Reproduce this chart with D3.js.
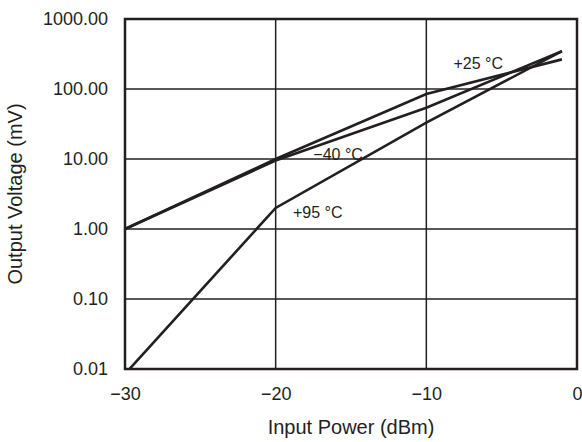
<!DOCTYPE html>
<html>
<head>
<meta charset="utf-8">
<script src="https://cdn.jsdelivr.net/npm/d3@7"></script>
<style>
	body { margin: 0; background: #fff; }
	text { font-family: "Liberation Sans", Arial, sans-serif; fill: #231f20; }
</style>
</head>
<body>
<svg id="chart"></svg>
<script>
// input power (dBm) where the curves are read
var powerDbm = [-30, -20, -10, -1];
// output voltage (mV) for each temperature
var voltM40 = [1.0, 10, 85, 265];
var voltP25 = [1.0, 9.5, 54, 347];
var voltP95 = [0.0085, 2.0, 33, 347];
var seriesNames = ["\u221240 \u00b0C", "+25 \u00b0C", "+95 \u00b0C"];
// where each curve label sits: [dBm, mV]
var labelAt = [[-17.5, 9.7], [-8.2, 193], [-18.85, 1.43]];
var xTicks = [-30, -20, -10, 0];
var yTicks = [0.01, 0.1, 1, 10, 100, 1000];

var w = 582,
	h = 442;
var plotL = 125, plotR = 577, plotT = 19, plotB = 369;

function init(){
	var svg = d3.select("#chart").attr("width", w).attr("height", h);

	var x = d3.scaleLinear().domain([-30, 0]).range([plotL, plotR]);
	var y = d3.scaleLog().domain([0.01, 1000]).range([plotB, plotT]);

	// grid
	svg.append("g").selectAll("line").data(xTicks).enter().append("line")
		.attr("x1", function(d){ return x(d); }).attr("x2", function(d){ return x(d); })
		.attr("y1", plotT).attr("y2", plotB)
		.attr("stroke", "#231f20").attr("stroke-width", 1.5);
	svg.append("g").selectAll("line").data(yTicks).enter().append("line")
		.attr("x1", plotL).attr("x2", plotR)
		.attr("y1", function(d){ return y(d); }).attr("y2", function(d){ return y(d); })
		.attr("stroke", "#231f20").attr("stroke-width", 1.5);

	// axes (labels only, the frame is drawn below)
	svg.append("g").attr("transform", "translate(0," + plotB + ")")
		.call(d3.axisBottom(x).tickValues(xTicks).tickSize(0).tickPadding(18)
			.tickFormat(function(d){ return d < 0 ? "\u2212" + Math.abs(d) : d; }));
	svg.append("g").attr("transform", "translate(" + plotL + ",0)")
		.call(d3.axisLeft(y).tickValues(yTicks).tickSize(0).tickPadding(17)
			.tickFormat(d3.format(".2f")));
	svg.selectAll(".domain").remove();
	svg.selectAll(".tick text").attr("font-size", 18).attr("font-family", null).attr("fill", "#231f20");

	svg.append("rect").attr("x", plotL).attr("y", plotT)
		.attr("width", plotR - plotL).attr("height", plotB - plotT)
		.attr("fill", "none").attr("stroke", "#231f20").attr("stroke-width", 2.5);

	// curves
	svg.append("clipPath").attr("id", "clip").append("rect")
		.attr("x", plotL).attr("y", plotT).attr("width", plotR - plotL).attr("height", plotB - plotT);
	var line = d3.line()
		.x(function(d, i){ return x(powerDbm[i]); })
		.y(function(d){ return y(d); });
	var all = [voltM40, voltP25, voltP95];
	for (var i = 0; i < all.length; i++){
		svg.append("path").attr("d", line(all[i]))
			.attr("clip-path", "url(#clip)")
			.attr("fill", "none").attr("stroke", "#231f20").attr("stroke-width", 2.6);
		svg.append("text").attr("x", x(labelAt[i][0])).attr("y", y(labelAt[i][1]))
			.attr("font-size", 16).text(seriesNames[i]);
	}

	// titles
	svg.append("text").attr("x", (plotL + plotR) / 2).attr("y", 434)
		.attr("text-anchor", "middle").attr("font-size", 20).text("Input Power (dBm)");
	svg.append("text").attr("transform", "translate(22," + ((plotT + plotB) / 2) + ") rotate(-90)")
		.attr("text-anchor", "middle").attr("font-size", 20).text("Output Voltage (mV)");
}
init();
</script>
</body>
</html>
